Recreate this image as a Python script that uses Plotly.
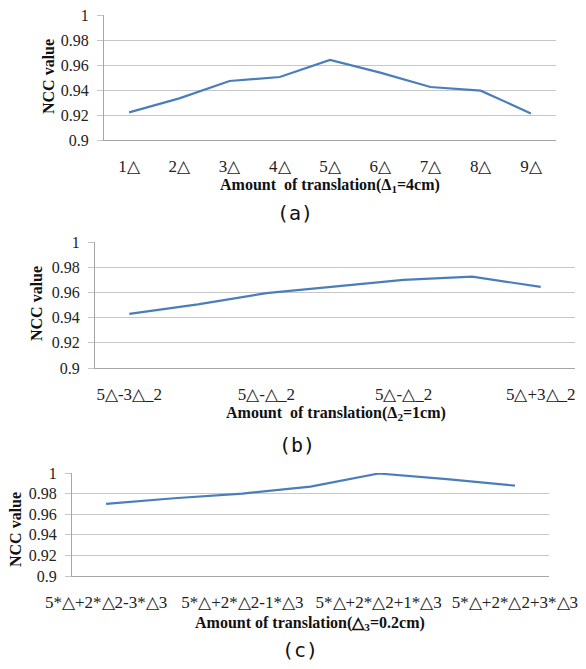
import plotly.graph_objects as go

# ---------------- data ----------------
cats_a = ["1△", "2△", "3△", "4△", "5△", "6△", "7△", "8△", "9△"]
ncc_a = [0.9221, 0.9333, 0.9472, 0.9504, 0.9640, 0.9539, 0.9424, 0.9395, 0.9213]

cats_b = ["5△-3△_2", "", "5△-△_2", "", "5△-△_2", "", "5△+3△_2"]
ncc_b = [0.9429, 0.9505, 0.9594, 0.9647, 0.9700, 0.9725, 0.9644]

cats_c = ["5*△+2*△2-3*△3", "", "5*△+2*△2-1*△3", "", "5*△+2*△2+1*△3", "", "5*△+2*△2+3*△3"]
ncc_c = [0.9701, 0.9755, 0.9800, 0.9867, 0.9995, 0.9940, 0.9877]

y_ticks = [0.9, 0.92, 0.94, 0.96, 0.98, 1.0]
y_ticktext = ["0.9", "0.92", "0.94", "0.96", "0.98", "1"]

x_titles = ["Amount  of translation(<b>Δ</b><sub>1</sub>=4cm)",
            "Amount  of translation(<b>Δ</b><sub>2</sub>=1cm)",
            "Amount of translation(△<sub>3</sub>=0.2cm)"]
panel_labels = ["(a)", "(b)", "(c)"]
y_title = "NCC value"

# ---------------- layout geometry (pixels) ----------------
W, H = 586, 669
LINE_COLOR = "#4a7ebb"
GRID = "#c6c6c6"
AXIS = "#a6a6a6"
FONT = "Liberation Serif"

panels = [
    dict(cats=cats_a, vals=ncc_a, x0=104, x1=556, y0=15, y1=140,
         xt=(330, 185), yt=(48, 77), lab=(295, 213)),
    dict(cats=cats_b, vals=ncc_b, x0=95, x1=575, y0=242, y1=368,
         xt=(336, 413), yt=(36, 304), lab=(297, 445)),
    dict(cats=cats_c, vals=ncc_c, x0=72, x1=549, y0=473, y1=576,
         xt=(310, 623), yt=(15, 530), lab=(300, 650)),
]

fig = go.Figure()
annotations = []
for i, p in enumerate(panels):
    n = len(p["cats"])
    xs = list(range(n))
    sfx = "" if i == 0 else str(i + 1)
    fig.add_trace(go.Scatter(
        x=xs, y=p["vals"], mode="lines",
        line=dict(color=LINE_COLOR, width=2.2),
        xaxis="x" + sfx, yaxis="y" + sfx, showlegend=False,
        hoverinfo="skip",
    ))
    tv = [k for k, t in enumerate(p["cats"]) if t]
    tt = [t for t in p["cats"] if t]
    fig.layout["xaxis" + sfx] = dict(
        domain=[p["x0"] / W, p["x1"] / W],
        anchor="y" + sfx,
        range=[-0.5, n - 0.5],
        tickvals=tv, ticktext=tt,
        showgrid=False, zeroline=False,
        showline=True, linecolor=AXIS, linewidth=1,
        ticks="", ticklabelstandoff=11,
        tickfont=dict(family=FONT, size=17, color="#222"),
        fixedrange=True,
    )
    fig.layout["yaxis" + sfx] = dict(
        domain=[1 - p["y1"] / H, 1 - p["y0"] / H],
        anchor="x" + sfx,
        range=[0.9, 1.0],
        tickvals=y_ticks, ticktext=y_ticktext,
        showgrid=True, gridcolor=GRID, gridwidth=1,
        zeroline=False,
        showline=True, linecolor=AXIS, linewidth=1,
        ticks="outside", ticklen=6, tickcolor=GRID,
        ticklabelstandoff=5,
        tickfont=dict(family=FONT, size=16, color="#222"),
        fixedrange=True,
    )
    annotations.append(dict(
        text=x_titles[i], x=p["xt"][0] / W, y=1 - p["xt"][1] / H,
        xref="paper", yref="paper", xanchor="center", yanchor="middle",
        showarrow=False,
        font=dict(family=FONT, size=16, color="#111", weight="bold"),
    ))
    annotations.append(dict(
        text="<b>" + y_title + "</b>", x=p["yt"][0] / W, y=1 - p["yt"][1] / H,
        xref="paper", yref="paper", xanchor="center", yanchor="middle",
        textangle=-90, showarrow=False,
        font=dict(family=FONT, size=16, color="#111"),
    ))
    annotations.append(dict(
        text=panel_labels[i], x=p["lab"][0] / W, y=1 - p["lab"][1] / H,
        xref="paper", yref="paper", xanchor="center", yanchor="middle",
        showarrow=False,
        font=dict(family="DejaVu Sans Mono", size=20, color="#111"),
    ))

fig.update_layout(
    template="none",
    font=dict(family=FONT, size=16, color="#222"),
    width=W, height=H,
    margin=dict(l=0, r=0, t=0, b=0),
    paper_bgcolor="white", plot_bgcolor="white",
    annotations=annotations,
)

fig.write_html("out.html",
               config={"displayModeBar": False},
               post_script="document.body.style.margin='0';document.body.style.padding='0';")
